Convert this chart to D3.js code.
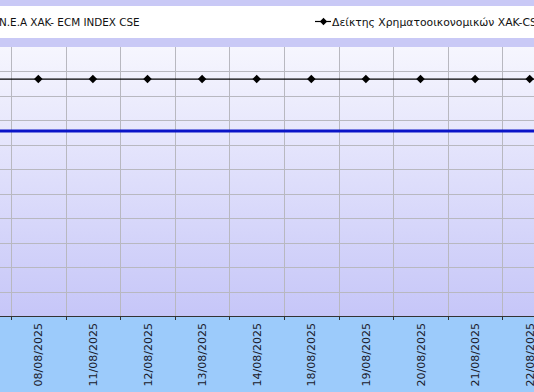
<!DOCTYPE html>
<html>
<head>
<meta charset="utf-8">
<script src="https://cdn.jsdelivr.net/npm/d3@7"></script>
<style>
  body { margin: 0; overflow: hidden; background: #fff; }
  svg { display: block; }
  text { font-family: "DejaVu Sans", Tahoma, sans-serif; }
</style>
</head>
<body>
<div id="chart"></div>
<script>
// data (chart is cropped at both sides)
var dates = ["07/08/2025", "08/08/2025", "11/08/2025", "12/08/2025", "13/08/2025", "14/08/2025",
             "18/08/2025", "19/08/2025", "20/08/2025", "21/08/2025", "22/08/2025", "25/08/2025"];
var ecmIndex = [75.6, 75.6, 75.6, 75.6, 75.6, 75.6, 75.6, 75.6, 75.6, 75.6, 75.6, 75.6];
var finIndex = [96.9, 96.9, 96.9, 96.9, 96.9, 96.9, 96.9, 96.9, 96.9, 96.9, 96.9, 96.9];
var yTicks = [0, 10, 20, 30, 40, 50, 60, 70, 80, 90, 100, 110];
var legendNames = ["N.E.A XAK- ECM INDEX CSE", "Δείκτης Χρηματοοικονομικών XAK-CSE"];

var width = 534, height = 392;
var plotTop = 47, plotBottom = 316;

var svg = d3.select("#chart").append("svg")
  .attr("width", width)
  .attr("height", height);

var defs = svg.append("defs");
var grad = defs.append("linearGradient")
  .attr("id", "plotGrad")
  .attr("x1", 0).attr("y1", 0).attr("x2", 0).attr("y2", 1);
grad.append("stop").attr("offset", "0%").attr("stop-color", "#f6f6fe");
grad.append("stop").attr("offset", "100%").attr("stop-color", "#c6c6f8");

// header bands + legend box
svg.append("rect").attr("x", 0).attr("y", 0).attr("width", width).attr("height", plotTop)
  .attr("fill", "#c9c9f6");
svg.append("rect").attr("x", 0).attr("y", 6).attr("width", width).attr("height", 32)
  .attr("fill", "#ffffff");

// plot background
svg.append("rect").attr("x", 0).attr("y", plotTop).attr("width", width).attr("height", plotBottom - plotTop)
  .attr("fill", "url(#plotGrad)");

// axis band
svg.append("rect").attr("x", 0).attr("y", plotBottom).attr("width", width).attr("height", height - plotBottom)
  .attr("fill", "#9ccbfb");

var step = 54.6;
var x = d3.scaleBand()
  .domain(dates)
  .range([11 - step, 11 - step + step * dates.length])
  .paddingInner(0).paddingOuter(0);

var y = d3.scaleLinear()
  .domain([0, 110])
  .range([plotBottom, plotTop]);

// grid
var grid = svg.append("g").attr("class", "grid");
grid.selectAll("line.h")
  .data(yTicks.slice(1, -1))
  .enter().append("line")
  .attr("x1", 0).attr("x2", width)
  .attr("y1", d => Math.round(y(d)) + 0.5)
  .attr("y2", d => Math.round(y(d)) + 0.5)
  .attr("stroke", "#b8b8c0").attr("stroke-width", 1);

grid.selectAll("line.v")
  .data(dates)
  .enter().append("line")
  .attr("x1", d => Math.round(x(d)) + 0.5)
  .attr("x2", d => Math.round(x(d)) + 0.5)
  .attr("y1", plotTop).attr("y2", plotBottom)
  .attr("stroke", "#b8b8c0").attr("stroke-width", 1);

var cx = d => x(d) + x.bandwidth() / 2;

// blue series
var seriesLine = d3.line().x((d, i) => cx(dates[i])).y(d => y(d));
svg.append("path")
  .datum(ecmIndex)
  .attr("d", seriesLine)
  .attr("fill", "none")
  .attr("stroke", "#0a14c8")
  .attr("stroke-width", 3);

// black series with diamonds
svg.append("path")
  .datum(finIndex)
  .attr("d", seriesLine)
  .attr("fill", "none")
  .attr("stroke", "#000")
  .attr("stroke-width", 1.2);

var diamond = d3.symbol().type(d3.symbolDiamond2).size(46);
svg.selectAll("path.pt")
  .data(finIndex)
  .enter().append("path")
  .attr("class", "pt")
  .attr("d", diamond)
  .attr("transform", (d, i) => "translate(" + cx(dates[i]) + "," + y(d) + ")")
  .attr("fill", "#000");

// x axis
var xAxis = svg.append("g")
  .attr("transform", "translate(0," + plotBottom + ")");
xAxis.append("line")
  .attr("x1", 0).attr("x2", width).attr("y1", 0.5).attr("y2", 0.5)
  .attr("stroke", "#333").attr("stroke-width", 1);
xAxis.selectAll("line.tick")
  .data(dates)
  .enter().append("line")
  .attr("x1", d => Math.round(x(d)) + 0.5)
  .attr("x2", d => Math.round(x(d)) + 0.5)
  .attr("y1", 0).attr("y2", 4)
  .attr("stroke", "#333");
// only the labels that fall inside the visible window
xAxis.selectAll("text")
  .data(dates.filter(d => cx(d) > 0 && cx(d) < width))
  .enter().append("text")
  .attr("transform", d => "translate(" + (cx(d) + 4) + ",7) rotate(-90)")
  .attr("text-anchor", "end")
  .attr("font-size", 11)
  .attr("fill", "#1a1a2a")
  .text(d => d);

// legend
var legend = svg.append("g");
legend.append("line")
  .attr("x1", -40).attr("x2", -16).attr("y1", 22).attr("y2", 22)
  .attr("stroke", "#0a14c8").attr("stroke-width", 3);
legend.append("text")
  .attr("x", -1).attr("y", 26)
  .attr("font-size", 10.4)
  .attr("fill", "#111")
  .text(legendNames[0]);

legend.append("line")
  .attr("x1", 315).attr("x2", 331).attr("y1", 21.5).attr("y2", 21.5)
  .attr("stroke", "#000").attr("stroke-width", 1.2);
legend.append("path")
  .attr("d", d3.symbol().type(d3.symbolDiamond2).size(34))
  .attr("transform", "translate(323.5,21.5)")
  .attr("fill", "#000");
legend.append("text")
  .attr("x", 332).attr("y", 26)
  .attr("font-size", 10.8)
  .attr("fill", "#111")
  .text(legendNames[1]);
</script>
</body>
</html>
